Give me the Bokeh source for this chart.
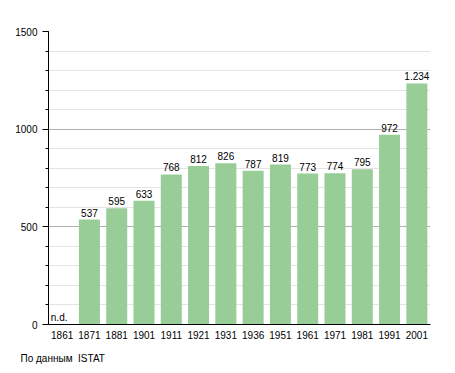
from bokeh.plotting import figure
from bokeh.models import ColumnDataSource, FixedTicker, Title, Range1d
from bokeh.core.properties import value
from bokeh.embed import file_html
from bokeh.resources import INLINE

years = ["1861", "1871", "1881", "1901", "1911", "1921", "1931", "1936", "1951", "1961", "1971", "1981", "1991", "2001"]
population = [0, 537, 595, 633, 768, 812, 826, 787, 819, 773, 774, 795, 972, 1234]
bar_labels = ["", "537", "595", "633", "768", "812", "826", "787", "819", "773", "774", "795", "972", "1.234"]
missing_years = ["1861"]
y_ticks = [0, 500, 1000, 1500]
source_text = "По данным\u00a0 ISTAT"

FONT = "Liberation Sans"

src = ColumnDataSource(dict(x=years, top=population, lab=bar_labels))

p = figure(x_range=years, y_range=Range1d(0, 1500), width=448, height=373,
           output_backend="svg", toolbar_location=None,
           min_border_left=48, min_border_top=31, min_border_right=18, min_border_bottom=0)
p.x_range.range_padding = 0
p.outline_line_color = None

p.vbar(x="x", top="top", width=0.77, source=src, color="#98cd98", line_color=None)
p.text(x="x", y="top", text="lab", source=src, text_align="center", text_baseline="bottom",
       y_offset=-3, text_font=value(FONT), text_font_size="10px", text_color="#000000")
p.text(x=missing_years, y=[0], text=["n.d."], text_align="center", text_baseline="bottom",
       x_offset=-3, y_offset=-2, text_font=value(FONT), text_font_size="10px", text_color="#000000")

p.yaxis.ticker = FixedTicker(ticks=y_ticks, minor_ticks=list(range(0, 1501, 100)))
p.yaxis.major_tick_out = 6
p.yaxis.major_tick_in = 0
p.yaxis.minor_tick_out = 3
p.yaxis.minor_tick_in = 0
p.yaxis.axis_line_color = "#000000"
p.yaxis.major_tick_line_color = "#000000"
p.yaxis.minor_tick_line_color = "#000000"
p.yaxis.major_label_text_font = FONT
p.yaxis.major_label_text_font_size = "10px"
p.yaxis.major_label_text_color = "#000000"
p.yaxis.major_label_standoff = 5

p.xaxis.major_tick_line_color = None
p.xaxis.minor_tick_line_color = None
p.xaxis.axis_line_color = "#000000"
p.xaxis.major_label_text_font = FONT
p.xaxis.major_label_text_font_size = "10px"
p.xaxis.major_label_text_color = "#000000"
p.xaxis.major_label_standoff = 0

p.xgrid.grid_line_color = None
p.ygrid.grid_line_color = "#b0b0b0"
p.ygrid.minor_grid_line_color = "#e4e4e4"

p.add_layout(Title(text=source_text, align="left", offset=-28, standoff=19,
                   text_font=FONT, text_font_size="10px", text_font_style="normal",
                   text_color="#000000"), "below")

open("out.html", "w").write(file_html(p, INLINE))
